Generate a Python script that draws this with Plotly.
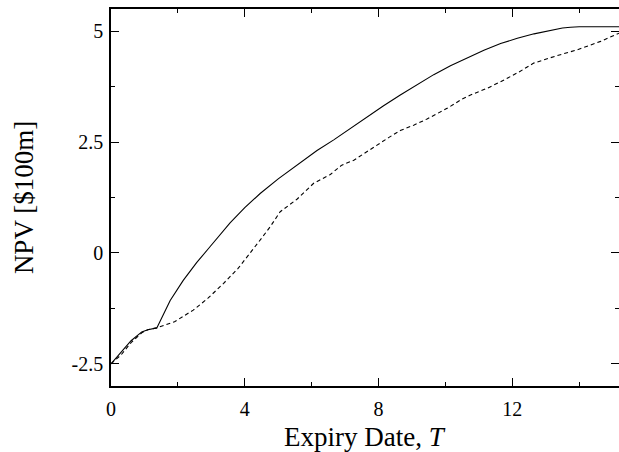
import plotly.graph_objects as go

# Expiry date T and NPV [$100m]
solid_x = [0.0, 0.3, 0.6, 0.92, 1.1, 1.37, 1.6, 1.77, 2.16, 2.56, 2.96, 3.56, 4.0, 4.46, 5.0, 5.36, 5.66, 6.16, 6.66, 7.15, 7.65, 8.15, 8.65, 9.15, 9.65, 10.15, 10.65, 11.15, 11.65, 12.15, 12.65, 13.14, 13.5, 13.74, 14.0, 14.5, 15.0, 15.3]
solid_y = [-2.5, -2.25, -1.98, -1.78, -1.73, -1.69, -1.32, -1.07, -0.62, -0.22, 0.14, 0.68, 1.02, 1.34, 1.67, 1.87, 2.05, 2.31, 2.55, 2.81, 3.07, 3.32, 3.56, 3.80, 4.02, 4.22, 4.40, 4.57, 4.72, 4.84, 4.94, 5.02, 5.07, 5.09, 5.1, 5.1, 5.1, 5.1]

dash_x = [0.0, 0.3, 0.6, 0.92, 1.1, 1.37, 1.9, 2.46, 2.9, 3.36, 3.8, 4.16, 4.5, 4.76, 5.06, 5.56, 6.06, 6.56, 6.9, 7.26, 7.86, 8.3, 8.65, 9.05, 9.45, 10.05, 10.5, 10.75, 11.24, 11.65, 12.2, 12.64, 13.3, 13.94, 14.64, 15.3]
dash_y = [-2.5, -2.3, -2.02, -1.8, -1.73, -1.69, -1.55, -1.29, -1.02, -0.69, -0.35, -0.01, 0.33, 0.59, 0.93, 1.21, 1.57, 1.77, 1.98, 2.09, 2.39, 2.6, 2.76, 2.88, 3.02, 3.26, 3.47, 3.56, 3.71, 3.86, 4.08, 4.28, 4.44, 4.58, 4.77, 4.99]

x_ticks = [0, 4, 8, 12]
x_minor = [2, 6, 10, 14]
y_ticks = [-2.5, 0, 2.5, 5]
y_tick_text = ["-2.5", "0", "2.5", "5"]
y_minor = [-1.25, 1.25, 3.75]

FONT = "Liberation Serif"
X_RANGE = [0, 15.19]
Y_RANGE = [-3.0, 5.5]

fig = go.Figure()
fig.add_trace(go.Scatter(x=solid_x, y=solid_y, mode="lines",
                         line=dict(color="black", width=1.1), showlegend=False))
fig.add_trace(go.Scatter(x=dash_x, y=dash_y, mode="lines",
                         line=dict(color="black", width=1.1, dash="4px,3px"), showlegend=False))
# invisible trace to activate the right y axis (mirror ticks only)
fig.add_trace(go.Scatter(x=[None], y=[None], yaxis="y2", showlegend=False))

tickfont = dict(family=FONT, size=20, color="black")
fig.update_layout(
    width=619, height=452,
    margin=dict(l=111, r=0, t=9, b=66),
    paper_bgcolor="white", plot_bgcolor="white",
    xaxis=dict(range=X_RANGE, tickmode="array", tickvals=x_ticks,
               ticktext=[str(v) for v in x_ticks],
               ticks="inside", ticklen=8, tickwidth=1.3, tickcolor="black",
               minor=dict(tickmode="array", tickvals=x_minor, ticks="inside", ticklen=4,
                          tickwidth=1.3, tickcolor="black", showgrid=False),
               showline=True, linecolor="black", linewidth=1.6, mirror="ticks",
               showgrid=False, zeroline=False, tickfont=tickfont, ticklabelstandoff=4),
    yaxis=dict(range=Y_RANGE, tickmode="array", tickvals=y_ticks, ticktext=y_tick_text,
               ticks="inside", ticklen=8, tickwidth=1.3, tickcolor="black",
               minor=dict(tickmode="array", tickvals=y_minor, ticks="inside", ticklen=4,
                          tickwidth=1.3, tickcolor="black", showgrid=False),
               showline=True, linecolor="black", linewidth=1.6, mirror=False,
               showgrid=False, zeroline=False, tickfont=tickfont, ticklabelstandoff=2),
    yaxis2=dict(range=Y_RANGE, overlaying="y", side="right", tickmode="array",
                tickvals=y_ticks, showticklabels=False,
                ticks="inside", ticklen=8, tickwidth=1.3, tickcolor="black",
                minor=dict(tickmode="array", tickvals=y_minor, ticks="inside", ticklen=4,
                           tickwidth=1.3, tickcolor="black", showgrid=False),
                showline=False, showgrid=False, zeroline=False),
    annotations=[
        dict(text="Expiry Date, <i>T</i>", xref="paper", yref="paper", x=0.5, y=-0.135,
             xanchor="center", yanchor="middle", showarrow=False,
             font=dict(family=FONT, size=27, color="black")),
        dict(text="NPV [$100m]", xref="paper", yref="paper", x=-0.172, y=0.5,
             xanchor="center", yanchor="middle", textangle=-90, showarrow=False,
             font=dict(family=FONT, size=27, color="black")),
    ],
)

fig.write_html("out.html", config={"displayModeBar": False},
               post_script="document.body.style.margin='0';document.body.style.overflow='hidden';")
